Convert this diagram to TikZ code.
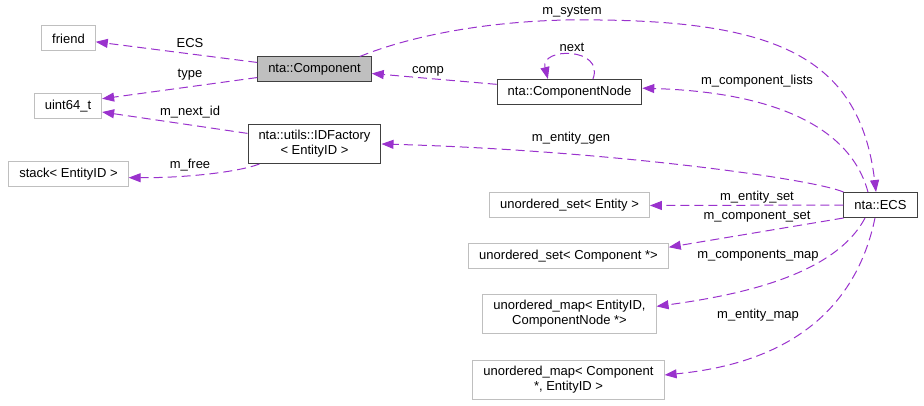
\documentclass[tikz,border=0pt]{standalone}
\usepackage{fontspec}
\setmainfont{Liberation Sans}
\usepackage{xcolor}
\usepackage{tikz}
\usetikzlibrary{positioning,shapes,arrows.meta,calc}

\definecolor{relpurple}{HTML}{9A32CD}
\definecolor{boxgray}{HTML}{BFBFBF}

\begin{document}
\begin{tikzpicture}[x=1pt, y=-1pt,
    box/.style={draw, rectangle, line width=1pt, minimum height=25pt, inner xsep=10.5pt, inner ysep=6pt, align=center, font=\fontsize{13}{15}\selectfont},
    cls/.style={box, draw=black!75},
    ext/.style={box, draw=boxgray},
    rel/.style={draw=relpurple, line width=1pt, dash pattern=on 9pt off 5pt, -{Triangle[length=12pt,width=9pt,fill=relpurple]}},
    lbl/.style={font=\fontsize{13}{15}\selectfont, inner sep=0pt}]
    \useasboundingbox (0,0) rectangle (924,406);

    \node[ext] (friend) at (68.5,38.5) {friend};
    \node[cls, fill=boxgray] (comp) at (314.5,69.5) {nta::Component};
    \node[ext] (uint) at (68,106) {uint64\_t};
    \node[cls] (idf) at (314.5,144) {nta::utils::IDFactory\\< EntityID >};
    \node[ext] (stack) at (68.5,174.5) {stack< EntityID >};
    \node[cls] (cnode) at (569.5,92) {nta::ComponentNode};
    \node[cls] (ecs) at (880.5,205) {nta::ECS};
    \node[ext] (uset) at (569.5,205.5) {unordered\_set< Entity >};
    \node[ext] (usetc) at (568.5,256) {unordered\_set< Component *>};
    \node[ext] (umape) at (569.5,314) {unordered\_map< EntityID,\\ ComponentNode *>};
    \node[ext] (umapc) at (568.5,380) {unordered\_map< Component\\*, EntityID >};

    \draw[rel] (comp.173) -- (friend.-7);
    \node[lbl] (l_ecs) at (190,43) {ECS};
    \draw[rel] (comp.188) -- (uint.12);
    \node[lbl] (l_type) at (190,75) {type};
    \draw[rel] (idf.171) -- (uint.-10);
    \node[lbl] (l_nextid) at (190,112) {m\_next\_id};
    \draw[rel] (idf.200) .. controls (235,173) and (180,178) .. (stack.-3);
    \node[lbl] (l_free) at (190,165) {m\_free};

    \draw[rel] (cnode.174.5) -- (comp.-4.5);
    \node[lbl] (l_comp) at (428,71) {comp};
    \draw[rel] (cnode.29) .. controls +(12,-32) and +(-8,-32) .. (cnode.149);
    \node[lbl] (l_next) at (572,47) {next};

    \draw[rel] (comp.16) .. controls (420,32) and (510,18) .. (600,20)
        .. controls (780,22) and (860,60) .. (ecs.109);
    \node[lbl] (l_system) at (572,12) {m\_system};
    \draw[rel] (ecs.134) .. controls (850,125) and (770,92) .. (cnode.3);
    \node[lbl] (l_lists) at (757,81) {m\_component\_lists};
    \draw[rel] (ecs.north west) .. controls (810,178) and (600,150) .. (idf.east);
    \node[lbl] (l_gen) at (571,138) {m\_entity\_gen};

    \draw[rel] (ecs.west) -- (uset.east);
    \node[lbl] (l_eset) at (757,197) {m\_entity\_set};
    \draw[rel] (ecs.south west) -- (usetc.5);
    \node[lbl] (l_cset) at (757,217) {m\_component\_set};
    \draw[rel] (ecs.-140) .. controls (835,275) and (740,295) .. (umape.5);
    \node[lbl] (l_cmap) at (758,256) {m\_components\_map};
    \draw[rel] (ecs.-113) .. controls (858,300) and (800,362) .. (umapc.3);
    \node[lbl] (l_emap) at (758,315) {m\_entity\_map};
\end{tikzpicture}
\end{document}
